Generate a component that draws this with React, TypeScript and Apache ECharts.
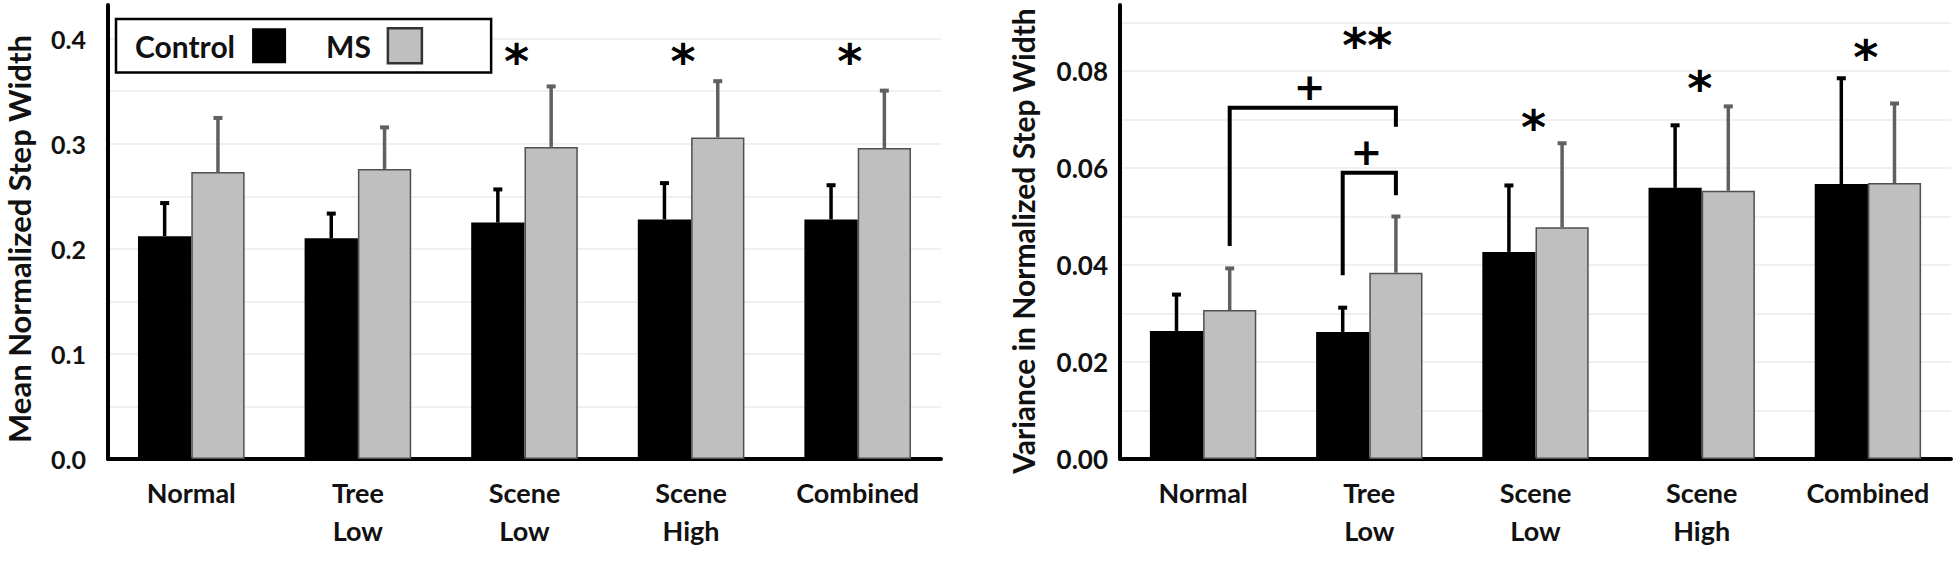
import React, { useEffect, useRef } from "react";
import * as echarts from "echarts";

const categories = ["Normal", "Tree\nLow", "Scene\nLow", "Scene\nHigh", "Combined"];
const seriesNames = ["Control", "MS"];

// Left: Mean Normalized Step Width
const meanControl = [0.212, 0.210, 0.225, 0.228, 0.228];
const meanControlErr = [0.032, 0.024, 0.032, 0.035, 0.033];
const meanMS = [0.273, 0.276, 0.297, 0.306, 0.296];
const meanMSErr = [0.052, 0.040, 0.058, 0.054, 0.055];
const meanStarCats = [2, 3, 4];
const meanStarY = [0.39, 0.39, 0.39];
const meanStarText = ["*", "*", "*"];

// Right: Variance in Normalized Step Width
const varControl = [0.0264, 0.0262, 0.0427, 0.0559, 0.0567];
const varControlErr = [0.0076, 0.0051, 0.0138, 0.013, 0.0219];
const varMS = [0.0307, 0.0384, 0.0478, 0.0553, 0.0569];
const varMSErr = [0.0087, 0.0117, 0.0174, 0.0175, 0.0165];
const varStarCats = [1, 2, 3, 4];
const varStarY = [0.0878, 0.0709, 0.079, 0.0854];
const varStarText = ["**", "*", "*", "*"];
// [fromCat, fromSide(-1 Control, +1 MS), toCat, toSide, leftEndY, topY, rightEndY]
const varBrackets = [
  [0, 1, 1, 1, 0.0439, 0.0724, 0.0685],
  [1, -1, 1, 1, 0.0379, 0.059, 0.0544],
];
const varBracketText = ["+", "+"];

const FONT = "Lato";
const BLACK = "#000000";
const GRAY = "#bfbfbf";
const GRAY_BORDER = "#505050";
const ERR_GRAY = "#606060";
const BAR_FRAC = 0.16;

function errorBars(axisIdx: number, means: number[], errs: number[], side: number, color: string) {
  return {
    type: "custom",
    xAxisIndex: axisIdx,
    yAxisIndex: axisIdx,
    z: 5,
    silent: true,
    data: means.map((m, i) => [i, m, m + errs[i]]),
    encode: { x: 0, y: [1, 2] },
    renderItem: (params: any, api: any) => {
      const i = api.value(0);
      const base = api.coord([i, api.value(1)]);
      const top = api.coord([i, api.value(2)]);
      const band = api.size([1, 0])[0];
      const x = base[0] + side * BAR_FRAC * band;
      return {
        type: "group",
        children: [
          { type: "line", shape: { x1: x, y1: base[1], x2: x, y2: top[1] }, style: { stroke: color, lineWidth: 3.5 } },
          { type: "rect", shape: { x: x - 4.5, y: top[1] - 1.5, width: 9, height: 4 }, style: { fill: color } },
        ],
      };
    },
  };
}

function stars(axisIdx: number, cats: number[], ys: number[], texts: string[], dx: number) {
  return {
    type: "custom",
    xAxisIndex: axisIdx,
    yAxisIndex: axisIdx,
    z: 6,
    silent: true,
    data: cats.map((c, i) => [c, ys[i], i]),
    encode: { x: 0, y: 1 },
    renderItem: (params: any, api: any) => {
      const p = api.coord([api.value(0), api.value(1)]);
      const t = texts[api.value(2)];
      return {
        type: "text",
        x: p[0] + dx,
        y: p[1] + 12,
        style: {
          text: t,
          fontSize: 48,
          fontFamily: "DejaVu Sans",
          fontWeight: "bold",
          fill: BLACK,
          align: "center",
          verticalAlign: "middle",
        },
      };
    },
  };
}

function brackets(axisIdx: number, items: number[][], texts: string[]) {
  return {
    type: "custom",
    xAxisIndex: axisIdx,
    yAxisIndex: axisIdx,
    z: 6,
    silent: true,
    data: items.map((b, i) => [...b, i]),
    encode: { x: 0, y: 5 },
    renderItem: (params: any, api: any) => {
      const band = api.size([1, 0])[0];
      const fromCat = api.value(0);
      const fromSide = api.value(1);
      const toCat = api.value(2);
      const toSide = api.value(3);
      const l = api.coord([fromCat, api.value(4)]);
      const t = api.coord([fromCat, api.value(5)]);
      const r = api.coord([toCat, api.value(6)]);
      const x1 = l[0] + fromSide * BAR_FRAC * band;
      const x2 = r[0] + toSide * BAR_FRAC * band;
      return {
        type: "group",
        children: [
          {
            type: "polyline",
            shape: { points: [[x1, l[1]], [x1, t[1]], [x2, t[1]], [x2, r[1]]] },
            style: { stroke: BLACK, lineWidth: 4, fill: null },
          },
          {
            type: "text",
            x: (x1 + x2) / 2 - 3,
            y: t[1] - 21,
            style: {
              text: texts[api.value(7)],
              fontSize: 38,
              fontFamily: "DejaVu Sans",
              fontWeight: "bold",
              fill: BLACK,
              align: "center",
              verticalAlign: "middle",
            },
          },
        ],
      };
    },
  };
}

function barSeries(axisIdx: number, name: string, values: number[], isMS: boolean) {
  return {
    type: "bar",
    name,
    xAxisIndex: axisIdx,
    yAxisIndex: axisIdx,
    barWidth: "32%",
    barGap: "0%",
    z: 3,
    data: values,
    itemStyle: isMS
      ? { color: GRAY, borderColor: GRAY_BORDER, borderWidth: 1.5 }
      : { color: BLACK },
  };
}

function xAxis(gridIndex: number) {
  return {
    type: "category",
    gridIndex,
    data: categories,
    axisLine: { show: true, lineStyle: { color: BLACK, width: 4 } },
    axisTick: { show: false },
    axisLabel: {
      color: "#111",
      fontFamily: FONT,
      fontWeight: "bold",
      fontSize: 27,
      lineHeight: 38,
      margin: 14,
      interval: 0,
    },
  };
}

function yAxis(gridIndex: number, max: number, interval: number, labelEvery: number, decimals: number, margin: number, fontSize: number) {
  return {
    type: "value",
    gridIndex,
    min: 0,
    max,
    interval,
    axisLine: { show: true, lineStyle: { color: BLACK, width: 4 } },
    axisTick: { show: false },
    splitLine: { show: true, showMaxLine: false, lineStyle: { color: "#ebebeb", width: 1.5 } },
    axisLabel: {
      showMaxLabel: false,
      margin,
      color: "#111",
      fontFamily: FONT,
      fontWeight: "bold",
      fontSize,
      formatter: (v: number) => {
        const k = Math.round(v / interval);
        return k % labelEvery === 0 ? v.toFixed(decimals) : "";
      },
    },
  };
}

export default function App() {
  const ref = useRef<HTMLDivElement>(null);
  useEffect(() => {
    const chart = echarts.init(ref.current!, null, { renderer: "svg" });
    const option: any = {
      animation: false,
      backgroundColor: "#ffffff",
      grid: [
        { left: 108, top: 5, width: 833, height: 454 },
        { left: 1120, top: 5, width: 831, height: 454 },
      ],
      legend: {
        data: [
          { name: "Control", itemStyle: { color: BLACK } },
          { name: "MS", itemStyle: { color: GRAY, borderColor: "#333", borderWidth: 2.5 } },
        ],
        left: 116,
        top: 19,
        align: "right",
        orient: "horizontal",
        icon: "rect",
        itemWidth: 34,
        itemHeight: 35,
        itemGap: 40,
        padding: [8, 68, 8, 19],
        borderColor: BLACK,
        borderWidth: 2.5,
        backgroundColor: "#fff",
        selectedMode: false,
        textStyle: {
          fontFamily: FONT,
          fontWeight: "bold",
          fontSize: 30,
          color: "#111",
          padding: [0, 12, 0, 0],
        },
      },
      xAxis: [xAxis(0), xAxis(1)],
      yAxis: [
        yAxis(0, 0.432, 0.05, 2, 1, 22, 25),
        yAxis(1, 0.0936, 0.01, 2, 2, 12, 26),
      ],
      graphic: [
        {
          type: "text",
          x: 19,
          y: 239,
          rotation: Math.PI / 2,
          style: {
            text: "Mean Normalized Step Width",
            fontFamily: FONT,
            fontWeight: "bold",
            fontSize: 31,
            fill: "#111",
            align: "center",
            verticalAlign: "middle",
          },
        },
        {
          type: "text",
          x: 1023,
          y: 241,
          rotation: Math.PI / 2,
          style: {
            text: "Variance in Normalized Step Width",
            fontFamily: FONT,
            fontWeight: "bold",
            fontSize: 30,
            fill: "#111",
            align: "center",
            verticalAlign: "middle",
          },
        },
      ],
      series: [
        barSeries(0, seriesNames[0], meanControl, false),
        barSeries(0, seriesNames[1], meanMS, true),
        errorBars(0, meanControl, meanControlErr, -1, BLACK),
        errorBars(0, meanMS, meanMSErr, 1, ERR_GRAY),
        stars(0, meanStarCats, meanStarY, meanStarText, -8),
        barSeries(1, seriesNames[0], varControl, false),
        barSeries(1, seriesNames[1], varMS, true),
        errorBars(1, varControl, varControlErr, -1, BLACK),
        errorBars(1, varMS, varMSErr, 1, ERR_GRAY),
        stars(1, varStarCats, varStarY, varStarText, -2),
        brackets(1, varBrackets, varBracketText),
      ],
    };
    chart.setOption(option);
    return () => chart.dispose();
  }, []);
  return (
    <div
      ref={ref}
      style={{ position: "absolute", left: 0, top: 0, width: 1958, height: 566, background: "#fff" }}
    />
  );
}
